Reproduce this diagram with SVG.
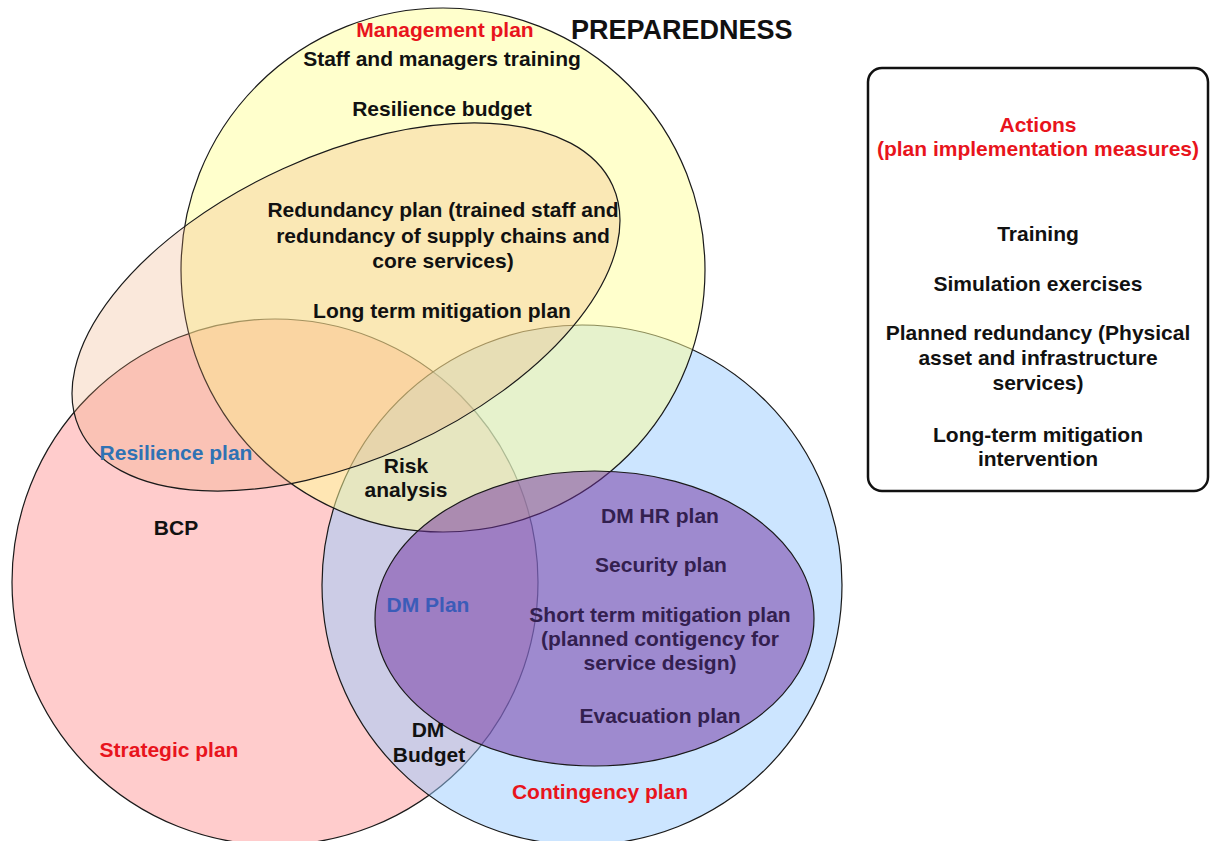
<svg xmlns="http://www.w3.org/2000/svg" width="1213" height="841" viewBox="0 0 1213 841">
  <style>
    .set { stroke: #1a1a1a; stroke-width: 1.2; }
    .lbl { font-family: "Liberation Sans", Arial, sans-serif; font-weight: bold; font-size: 21px; text-anchor: middle; fill: #111; }
    .title { fill: #e8141c; }
    .blue { fill: #2f72b4; }
    .dmblue { fill: #3b5cb8; }
    .inner { fill: #33204f; }
  </style>
  <rect width="1213" height="841" fill="#ffffff"/>

  <!-- plan sets, back to front -->
  <g id="strategic-plan">
    <circle class="set" cx="275" cy="582" r="263" fill="#ff9999" fill-opacity="0.5"/>
  </g>
  <g id="contingency-plan">
    <circle class="set" cx="582" cy="585" r="260" fill="#99ccff" fill-opacity="0.5"/>
  </g>
  <g id="management-plan">
    <circle class="set" cx="443" cy="270" r="262" fill="#ffff99" fill-opacity="0.5"/>
  </g>
  <g id="resilience-plan">
    <ellipse class="set" cx="346" cy="307" rx="293" ry="152" transform="rotate(-24.5 346 307)" fill="#eba270" fill-opacity="0.25"/>
  </g>
  <g id="dm-plan">
    <ellipse class="set" cx="594.5" cy="618.5" rx="219.5" ry="147.5" fill="#7030a0" fill-opacity="0.5"/>
  </g>

  <!-- actions panel -->
  <g id="actions">
    <rect x="868" y="68" width="340" height="423" rx="14" ry="14" fill="#ffffff" stroke="#111" stroke-width="2.5"/>
    <text class="lbl title" x="1038" y="132">Actions</text>
    <text class="lbl title" x="1038" y="156">(plan implementation measures)</text>
    <text class="lbl" x="1038" y="241">Training</text>
    <text class="lbl" x="1038" y="291">Simulation exercises</text>
    <text class="lbl" x="1038" y="340">Planned redundancy (Physical</text>
    <text class="lbl" x="1038" y="365">asset and infrastructure</text>
    <text class="lbl" x="1038" y="390">services)</text>
    <text class="lbl" x="1038" y="442">Long-term mitigation</text>
    <text class="lbl" x="1038" y="466">intervention</text>
  </g>

  <!-- labels -->
  <g id="labels">
    <text class="lbl" x="571" y="39" style="font-size:27px;text-anchor:start">PREPAREDNESS</text>

    <text class="lbl title" x="445" y="37">Management plan</text>
    <text class="lbl" x="442" y="66">Staff and managers training</text>
    <text class="lbl" x="442" y="116">Resilience budget</text>
    <text class="lbl" x="443" y="217">Redundancy plan (trained staff and</text>
    <text class="lbl" x="443" y="243">redundancy of supply chains and</text>
    <text class="lbl" x="443" y="268">core services)</text>
    <text class="lbl" x="442" y="318">Long term mitigation plan</text>

    <text class="lbl blue" x="176" y="460">Resilience plan</text>
    <text class="lbl" x="176" y="535">BCP</text>
    <text class="lbl title" x="169" y="757">Strategic plan</text>

    <text class="lbl" x="406" y="473">Risk</text>
    <text class="lbl" x="406" y="497">analysis</text>

    <text class="lbl inner" x="660" y="523">DM HR plan</text>
    <text class="lbl inner" x="661" y="572">Security plan</text>
    <text class="lbl inner" x="660" y="622">Short term mitigation plan</text>
    <text class="lbl inner" x="660" y="646">(planned contigency for</text>
    <text class="lbl inner" x="660" y="670">service design)</text>
    <text class="lbl inner" x="660" y="723">Evacuation plan</text>
    <text class="lbl dmblue" x="428" y="612">DM Plan</text>

    <text class="lbl" x="428" y="737">DM</text>
    <text class="lbl" x="429" y="762">Budget</text>
    <text class="lbl title" x="600" y="799">Contingency plan</text>
  </g>
</svg>
